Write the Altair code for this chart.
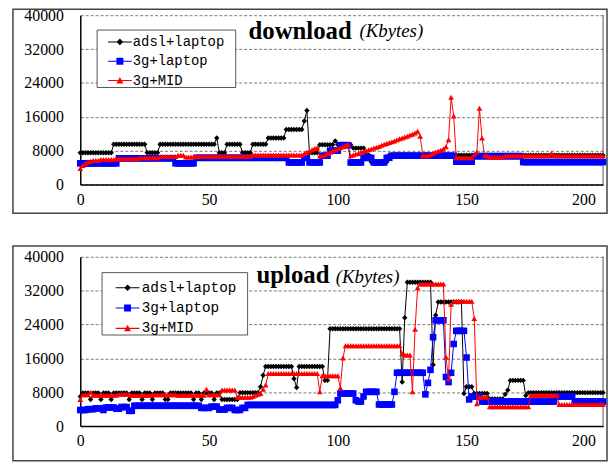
import altair as alt
import pandas as pd

# ---------------- data ----------------
X_MAX = 203
series_names = ["adsl+laptop", "3g+laptop", "3g+MID"]
series_colors = ["#000000", "#0000FF", "#FF0000"]
series_shapes = ["diamond", "square", "triangle-up"]
series_sizes = [30, 44, 34]
x_ticks = [0, 50, 100, 150, 200]
y_ticks = [0, 8000, 16000, 24000, 32000, 40000]

# (value, number of consecutive samples) runs, x = 0 .. 203
dl_adsl_runs = [(7500, 13), (9500, 13), (7500, 5), (9500, 22), (11000, 1), (7500, 3),
                (9500, 6), (7500, 4), (9500, 6), (11000, 7), (13000, 7), (15000, 1),
                (17500, 1), (7500, 4), (9400, 6), (10300, 1), (9400, 6), (8600, 5),
                (7000, 2), (5300, 7), (7000, 21), (6900, 63)]
dl_3glap_runs = [(5000, 15), (6200, 22), (5000, 8), (6300, 36), (5200, 6), (6300, 2),
                 (5200, 5), (6800, 3), (8000, 4), (9300, 4), (5200, 5), (6300, 4),
                 (5200, 5), (6300, 2), (6800, 25), (5400, 7), (6700, 19), (5300, 32)]
dl_3gmid_runs = [(3800, 1), (4500, 1), (5000, 1), (5300, 1), (5500, 1), (5700, 3), (5900, 6),
                 (6100, 9), (6300, 8), (6600, 7), (6900, 3), (6500, 4), (6700, 22), (7000, 20),
                 (7300, 1), (7600, 1), (7900, 1), (8200, 1), (8500, 1), (8700, 1), (6800, 2),
                 (7000, 1), (7300, 1), (7600, 1), (7900, 1), (8200, 1), (8500, 1), (8700, 1),
                 (8900, 1), (9200, 1), (9500, 1), (6800, 1),
                 (7000, 1), (7200, 1), (7300, 1), (7600, 1), (7800, 1), (8000, 1), (8200, 1),
                 (8400, 1), (8600, 1), (8800, 1), (9000, 1), (9300, 1), (9500, 1), (9700, 1),
                 (9900, 1), (10100, 1), (10300, 1), (10600, 1), (10800, 1), (11000, 1),
                 (11200, 1), (11400, 1), (11700, 1), (11900, 1), (12200, 1),
                 (12600, 1), (11400, 1), (6800, 3), (7100, 1), (7400, 1), (7700, 1), (7900, 1),
                 (8100, 1), (8400, 1), (8900, 1), (10600, 1), (20600, 1), (16200, 1), (6300, 7),
                 (7100, 1), (7600, 1), (18000, 1), (11000, 1), (6800, 2), (6500, 6), (6800, 18),
                 (7400, 1), (6800, 20)]

ul_adsl_runs = [(7000, 1), (7800, 3), (6300, 1), (7800, 3), (6300, 1), (7800, 3), (6300, 1),
                (7800, 6), (6300, 1), (7800, 4), (6300, 1), (7800, 3), (6300, 1), (7800, 4),
                (6300, 2), (7800, 9), (6300, 1), (7800, 2), (6300, 1), (7800, 4), (6300, 1),
                (7800, 2), (6300, 7), (7900, 8), (9300, 1), (12000, 1), (14100, 11), (11200, 1),
                (9100, 1), (14100, 10), (10800, 2), (23000, 28), (10400, 1), (25600, 1),
                (34000, 10), (14500, 1), (26200, 1), (29300, 10), (7700, 1), (9300, 3),
                (7700, 6), (6400, 6), (7500, 1), (8500, 1), (10800, 6), (7200, 1), (7900, 30)]
ul_3glap_runs = [(3800, 3), (4000, 3), (4200, 3), (3800, 1), (4400, 4), (4100, 2), (4500, 3),
                 (3600, 2), (4800, 26), (4300, 4), (4600, 3), (3900, 3), (4300, 3), (3800, 3),
                 (4300, 2), (5000, 35), (6100, 1), (7700, 6), (6100, 1), (5800, 2), (7000, 1),
                 (8100, 5), (5100, 6), (8100, 1), (12600, 11), (7500, 1), (10200, 1),
                 (13300, 1), (21000, 1), (25000, 4), (11600, 1), (10400, 1), (12600, 1),
                 (19400, 1), (22500, 4), (16200, 1), (6300, 1), (7000, 4), (5800, 29),
                 (7000, 7), (5800, 12)]
ul_3gmid_runs = [(6300, 1), (7400, 3), (8000, 1), (7300, 10), (7500, 5), (7200, 8), (7400, 10),
                 (7300, 11), (8700, 1), (7400, 5), (8500, 6), (6800, 6), (7000, 1), (7300, 1),
                 (7500, 1), (7700, 1), (8700, 1), (9700, 1), (12400, 20), (8100, 1),
                 (11900, 7), (9000, 1), (16100, 1), (19000, 22), (17100, 1), (16800, 3),
                 (8100, 1), (22900, 1), (32700, 1), (33600, 10), (16300, 1), (11200, 1),
                 (28800, 1), (29500, 8), (25400, 1), (5300, 1), (6900, 4), (4600, 16),
                 (7300, 11), (5100, 18)]

# legend symbols: a short line with the series marker on it (SVG paths, unit = 7 px)
legend_paths = [
    "M-1.72,-0.08H1.72V0.08H-1.72Z M0,-0.48L0.48,0L0,0.48L-0.48,0Z",
    "M-1.72,-0.08H1.72V0.08H-1.72Z M-0.5,-0.5H0.5V0.5H-0.5Z",
    "M-1.72,-0.08H1.72V0.08H-1.72Z M0,-0.52L0.5,0.42L-0.5,0.42Z",
]


def expand(runs):
    out = []
    for v, n in runs:
        out += [v] * n
    assert len(out) == X_MAX + 1, len(out)
    return out


def make_df(runs_list):
    rows = []
    for name, runs in zip(series_names, runs_list):
        for i, v in enumerate(expand(runs)):
            rows.append({"x": i, "value": v, "series": name})
    return pd.DataFrame(rows)


df_dl = make_df([dl_adsl_runs, dl_3glap_runs, dl_3gmid_runs])
df_ul = make_df([ul_adsl_runs, ul_3glap_runs, ul_3gmid_runs])

W, H = 528, 171
SERIF = "Liberation Serif"


def panel(df, word, word_x, unit_x, word_y, unit_y, leg_x, leg_y, leg_font,
          sym_off, lab_off, row_pad, box, frame_top, frame_bottom):
    xenc = alt.X("x:Q", scale=alt.Scale(domain=[0, X_MAX], nice=False, zero=False),
                 axis=alt.Axis(values=x_ticks, title=None, grid=False, ticks=False,
                               labelPadding=7, domainColor="#000", domainWidth=1.5,
                               labelFont=SERIF, labelFontSize=16, labelColor="#000",
                               labelFlush=False, labelOverlap=False,
                               labelAlign={"condition": {"test": "datum.value >= 200", "value": "right"},
                                           "value": "center"}))
    yenc = alt.Y("value:Q", scale=alt.Scale(domain=[0, 40000], nice=False),
                 axis=alt.Axis(values=y_ticks, title=None, grid=True, gridDash=[3, 2],
                               gridColor="#777", gridWidth=1, ticks=False, labelPadding=17,
                               format="d", domainColor="#000", domainWidth=1.5,
                               labelFont=SERIF, labelFontSize=16, labelColor="#000"))
    base = alt.Chart(df)
    one = alt.Data(values=[{"f": 1}])
    frame = alt.Chart(one).mark_rect(
        fillOpacity=0, stroke="#444", strokeWidth=1.5
    ).encode(x=alt.value(-68), x2=alt.value(532), y=alt.value(frame_top), y2=alt.value(frame_bottom))
    legend_box = alt.Chart(one).mark_rect(
        fill="#ffffff", stroke="#555", strokeWidth=1
    ).encode(x=alt.value(box[0]), x2=alt.value(box[1]), y=alt.value(box[2]), y2=alt.value(box[3]))
    right_edge = alt.Chart(alt.Data(values=[{"x": X_MAX}])).mark_rule(
        color="#555", strokeWidth=1).encode(x=alt.X("x:Q"))
    layers = [frame, legend_box, right_edge]
    for name, color, shape, size in zip(series_names, series_colors, series_shapes, series_sizes):
        sub = base.transform_filter(alt.datum.series == name)
        layers.append(sub.mark_line(color=color, strokeWidth=1).encode(x=xenc, y=yenc))
        layers.append(sub.mark_point(shape=shape, filled=True, color=color, size=size,
                                     opacity=1, strokeWidth=0).encode(x=xenc, y=yenc))
    leg = alt.Legend(title=None, orient="none", legendX=leg_x, legendY=leg_y,
                     direction="vertical", symbolSize=196, symbolStrokeWidth=0,
                     symbolOffset=sym_off, labelOffset=lab_off, symbolOpacity=1,
                     labelFont="Liberation Mono", labelFontSize=leg_font, labelColor="#000",
                     padding=3, rowPadding=row_pad)
    legend_layer = base.transform_filter("false").mark_point(filled=True, opacity=1).encode(
        x=xenc, y=yenc,
        color=alt.Color("series:N", scale=alt.Scale(domain=series_names, range=series_colors), legend=leg),
        shape=alt.Shape("series:N", scale=alt.Scale(domain=series_names, range=legend_paths), legend=leg),
    )
    layers.append(legend_layer)
    t1 = alt.Chart(one).mark_text(
        text=word, align="left", baseline="alphabetic", font=SERIF, fontSize=25,
        fontWeight="bold", color="#000").encode(x=alt.value(word_x), y=alt.value(word_y))
    t2 = alt.Chart(one).mark_text(
        text="(Kbytes)", align="left", baseline="alphabetic", font=SERIF, fontSize=19,
        fontStyle="italic", color="#000").encode(x=alt.value(unit_x), y=alt.value(unit_y))
    layers += [t1, t2]
    return alt.layer(*layers).properties(width=W, height=H)


top = panel(df_dl, "download", 170, 282, 24, 22, 17, 17, 14, 13, 6, 5.5,
            (17, 157, 15, 73), -6, 200)
bottom = panel(df_ul, "upload", 178, 258, 26, 26, 22, 21, 14.5, 15.5, 7, 5.5,
               (22, 169, 16, 79), -11, 206)

chart = alt.vconcat(top, bottom, spacing=31).resolve_scale(
    color="independent", shape="independent"
).resolve_legend(
    color="independent", shape="independent"
).properties(
    padding={"left": 4, "top": -3, "right": 0, "bottom": 0}
).configure_view(strokeWidth=0)

chart.save("out.html", embed_options={"renderer": "svg", "actions": False})
